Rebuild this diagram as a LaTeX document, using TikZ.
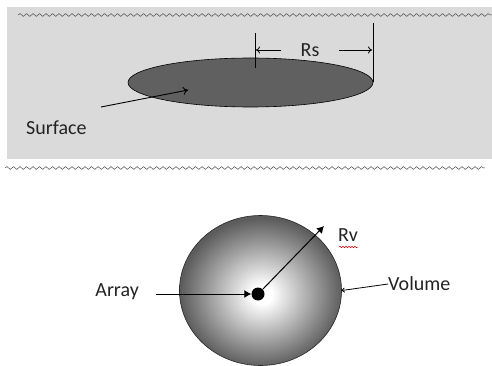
\documentclass[tikz,border=0pt]{standalone}
\usepackage{fontspec}
\setmainfont{Carlito}
\usetikzlibrary{decorations.pathmorphing,arrows.meta,shapes.geometric}
\definecolor{bgray}{RGB}{218,218,218}
\definecolor{discgray}{RGB}{96,96,96}
\definecolor{txt}{RGB}{35,35,35}
\definecolor{edgegray}{RGB}{92,92,92}
\pgfdeclareradialshading{sphere}{\pgfpoint{0.5bp}{-1.5bp}}{color(0bp)=(white); color(3bp)=(white); color(25bp)=(edgegray); color(50bp)=(edgegray)}
\tikzset{
  wave/.style={draw=black!70, line width=0.5pt, decorate, decoration={snake, segment length=6.5pt, amplitude=1.4pt}},
  lbl/.style={font=\fontsize{20}{24}\selectfont, text=txt, inner sep=0pt},
  thinarrow/.style={draw=black, line width=0.8pt, -{To[length=4pt,width=7pt]}},
  fatarrow/.style={draw=black, line width=1pt, -{Latex[length=7pt,width=8pt]}},
}
\begin{document}
\begin{tikzpicture}[x=1pt,y=-1pt]
\useasboundingbox (0,0) rectangle (492,366);
% top panel
\fill[bgray] (7,7) rectangle (492,159);
\path[wave] (18,15) -- (492,15);
\path[wave] (5,168) -- (485,168);
% disc surface
\node[ellipse, minimum width=245pt, minimum height=49pt, draw=black, line width=0.6pt, fill=discgray, inner sep=0pt] (disc) at (250.5,82.5) {};
\coordinate (cl) at (255,33);
\coordinate (cl2) at (255,68);
\coordinate (cr) at (373,23);
\coordinate (cr2) at (373,82);
\draw[line width=0.8pt] (cl) -- (cl2);
\draw[line width=0.8pt] (cr) -- (cr2);
\node[lbl] (rs) at (310,50) {Rs};
\coordinate (rsl) at (256,50);
\coordinate (rsr) at (372,50);
\draw[thinarrow] (281,50) -- (rsl);
\draw[thinarrow] (339,50) -- (rsr);
\node[lbl, anchor=west] (surf) at (26,128) {Surface};
\coordinate (sa) at (101,107);
\coordinate (sb) at (188,90);
\draw[line width=0.9pt, -{To[length=5pt,width=8pt]}] (sa) -- (sb);
% sphere volume
\node[ellipse, minimum width=162pt, minimum height=150pt, draw=black!85, line width=0.6pt, shading=sphere, inner sep=0pt] (vol) at (260.5,290.5) {};
\node[circle, fill=black, minimum size=13pt, inner sep=0pt] (dot) at (258,294) {};
\node[lbl, anchor=east] (arr) at (139,292) {Array};
\draw[fatarrow] (156,294) -- (dot.west);
\coordinate (rvt) at (324,226);
\draw[fatarrow] (dot.north east) -- (rvt);
\node[lbl] (rv) at (348,235) {Rv};
\draw[red!80!black, line width=0.5pt, decorate, decoration={snake, segment length=3pt, amplitude=0.8pt}] (339,247) -- (358,247);
\node[lbl, anchor=west] (volume) at (388,284) {Volume};
\draw[line width=0.8pt, -{To[length=3pt,width=5pt]}] (volume.west) -- (vol.east);
\end{tikzpicture}
\end{document}
